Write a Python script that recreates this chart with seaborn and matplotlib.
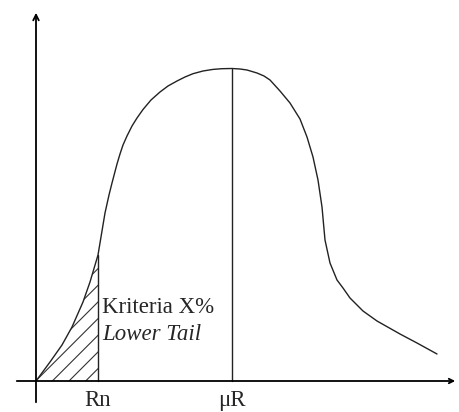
import numpy as np
import pandas as pd
import seaborn as sns
import matplotlib.pyplot as plt

sns.set_style("white")
plt.rcParams['font.family'] = ['Liberation Serif', 'DejaVu Serif']
plt.rcParams['hatch.linewidth'] = 0.8

# curve (x to the right of the y axis, y above the x axis)
curve_x = [0, 14, 26, 36, 47, 54, 62, 69, 73, 76, 81, 84, 87, 91, 96, 101, 107, 115, 124,
           132, 141, 149, 157, 167, 177, 186, 196, 204, 211, 221, 228, 234, 244, 254, 264,
           271, 277, 282, 286, 289, 294, 301, 307, 314, 327, 341, 364, 381, 401]
curve_y = [0, 19, 36, 54, 79, 99, 126, 168, 186, 198, 217, 227, 236, 245, 255, 263, 271.5,
           281, 289, 295, 300, 304, 307.3, 310, 311.6, 312.3, 312.5, 312, 311, 308, 305, 301,
           290, 278, 262, 244, 224, 201, 174, 141, 118, 101, 93, 83, 70, 60, 47, 38, 27]
rn_x = 62
mu_x = 196
tick_labels = ["Rn", "\u03bcR"]
tail_text = ["Kriteria X%", "Lower Tail"]

df = pd.DataFrame({"x": curve_x, "y": curve_y})

fig = plt.figure(figsize=(4.6, 4.12), dpi=100)
ax = fig.add_axes([0, 0, 1, 1])
ax.set_xlim(-36, 424)
ax.set_ylim(-31, 381)
ax.axis("off")

sns.lineplot(data=df, x="x", y="y", ax=ax, color="#222222", linewidth=1.0, sort=False)

# hatched lower tail
tail = df[df["x"] <= rn_x]
ax.fill_between(tail["x"], 0, tail["y"], facecolor="none", edgecolor="#333333",
                hatch="//", linewidth=0)

# vertical lines at Rn and muR
rn_y = df.loc[df["x"] == rn_x, "y"].iloc[0]
mu_y = df.loc[df["x"] == mu_x, "y"].iloc[0]
ax.plot([rn_x, rn_x], [0, rn_y], color="#222222", lw=1.0)
ax.plot([mu_x, mu_x], [0, mu_y], color="#222222", lw=1.0)

# axes with arrows
ax.annotate("", xy=(0, 371), xytext=(0, -24),
            arrowprops=dict(arrowstyle="->", lw=1.3, color="black", mutation_scale=10))
ax.annotate("", xy=(422, 0), xytext=(-22, 0),
            arrowprops=dict(arrowstyle="->", lw=1.3, color="black", mutation_scale=8))

for xv, lab in zip([rn_x, mu_x], tick_labels):
    ax.text(xv, -25, lab, ha="center", va="baseline", fontsize=16.5)

ax.text(rn_x + 4, 68, tail_text[0], ha="left", va="baseline", fontsize=16.5)
ax.text(rn_x + 4, 41, tail_text[1], ha="left", va="baseline", fontsize=16.5, style="italic")

fig.savefig("out.png", dpi=100)
